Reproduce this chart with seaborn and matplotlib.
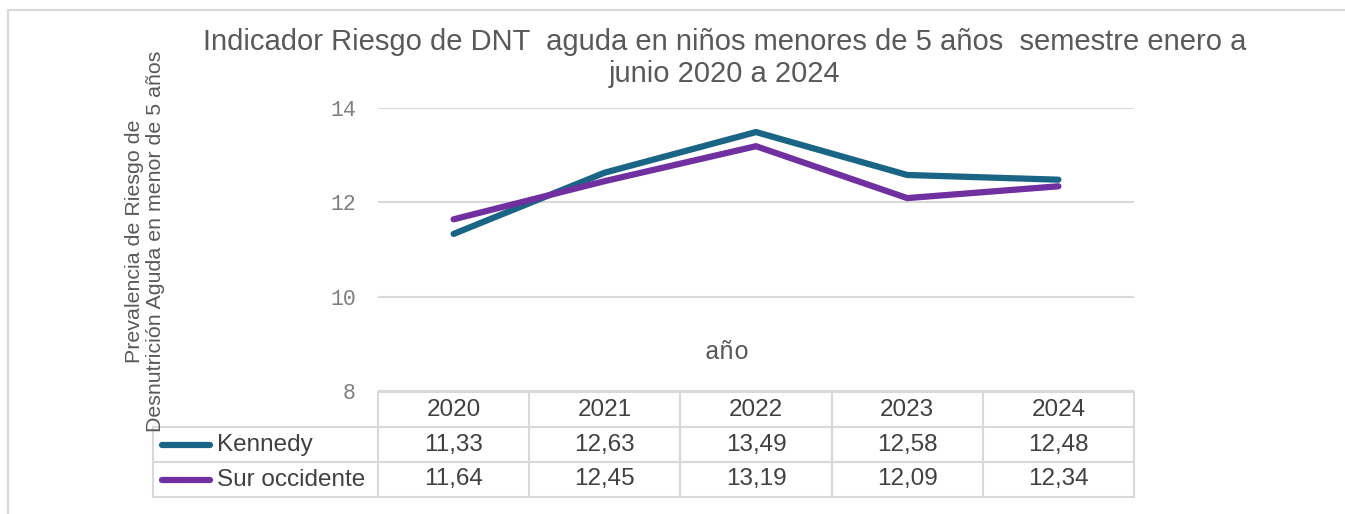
import pandas as pd
import matplotlib
matplotlib.use("Agg")
import matplotlib.pyplot as plt
import seaborn as sns

# data
years = ["2020", "2021", "2022", "2023", "2024"]
kennedy = [11.33, 12.63, 13.49, 12.58, 12.48]
sur_occidente = [11.64, 12.45, 13.19, 12.09, 12.34]
series_names = ["Kennedy", "Sur occidente"]
y_ticks = [8, 10, 12, 14]

colors = {"Kennedy": "#1a6485", "Sur occidente": "#7030a0"}

df = pd.DataFrame({
    "year": years * 2,
    "pos": list(range(len(years))) * 2,
    "value": kennedy + sur_occidente,
    "serie": ["Kennedy"] * len(years) + ["Sur occidente"] * len(years),
})

sns.set_theme(style="white")
plt.rcParams["font.family"] = ["Liberation Sans", "DejaVu Sans"]

W, H = 1345, 514
fig = plt.figure(figsize=(W / 100, H / 100), dpi=100)

def px_box(x0, y0, x1, y1):
    return [x0 / W, 1 - y1 / H, (x1 - x0) / W, (y1 - y0) / H]

ax = fig.add_axes(px_box(378, 108, 1134, 391))
sns.lineplot(data=df, x="pos", y="value", hue="serie", palette=colors,
             linewidth=4.5, ax=ax, legend=False, solid_capstyle="round")
ax.set_xlim(-0.5, len(years) - 0.5)
ax.set_ylim(8, 14)
ax.set_yticks(y_ticks)
ax.set_yticklabels([str(t) for t in y_ticks], family="Liberation Mono",
                   fontsize=15.5, color="#7f7f7f")
ax.tick_params(axis="y", length=0, pad=16)
ax.set_xticks([])
ax.set_xlabel("")
ax.set_ylabel("")
for s in ax.spines.values():
    s.set_visible(False)
ax.grid(axis="y", color="#d9d9d9", linewidth=1.5)
ax.set_axisbelow(True)

ax.text(1.81, 8.83, "año", family="Liberation Mono", fontsize=18,
        color="#595959", ha="center", va="center")

# data table below the plot
tab = fig.add_axes(px_box(153, 392, 1134, 497))
left = -0.5 - 225 / 151.2
tab.set_xlim(left, len(years) - 0.5)
tab.set_ylim(3, 0)
tab.axis("off")
grid_c = "#d9d9d9"
lw = 1.5
# horizontal lines
tab.plot([-0.5, len(years) - 0.5], [0, 0], color=grid_c, lw=lw, clip_on=False)
for r in [1, 2, 3]:
    tab.plot([left, len(years) - 0.5], [r, r], color=grid_c, lw=lw, clip_on=False)
# vertical lines
tab.plot([left, left], [1, 3], color=grid_c, lw=lw, clip_on=False)
for i in range(len(years) + 1):
    tab.plot([i - 0.5, i - 0.5], [0, 3], color=grid_c, lw=lw, clip_on=False)

txt_c = "#404040"
fs = 17.5
for i, y in enumerate(years):
    tab.text(i, 0.5, y, ha="center", va="center", fontsize=fs, color=txt_c)
for r, (name, vals) in enumerate(zip(series_names, [kennedy, sur_occidente])):
    row = r + 1.5
    for i, v in enumerate(vals):
        tab.text(i, row, f"{v:.2f}".replace(".", ","), ha="center", va="center",
                 fontsize=fs, color=txt_c)
    tab.plot([left + 0.06, left + 0.38], [row, row], color=colors[name], lw=4.5,
             solid_capstyle="round", clip_on=False)
    tab.text(left + 0.42, row, name, ha="left", va="center", fontsize=fs, color=txt_c)

fig.text(725 / W, 1 - 58 / H,
         "Indicador Riesgo de DNT  aguda en niños menores de 5 años  semestre enero a\njunio 2020 a 2024",
         ha="center", va="center", fontsize=21, color="#595959", linespacing=1.2)

fig.text(145 / W, 1 - 241 / H,
         "Prevalencia de Riesgo de\nDesnutrición Aguda en menor de 5 años",
         ha="center", va="center", rotation=90, fontsize=15.4, color="#595959",
         linespacing=1.1)

# chart frame (top and left edges visible in the crop)
fig.add_artist(plt.Line2D([8 / W, 8 / W], [0, 1 - 10 / H], color="#d9d9d9", lw=1.5))
fig.add_artist(plt.Line2D([8 / W, 1], [1 - 10 / H, 1 - 10 / H], color="#d9d9d9", lw=1.5))

fig.savefig("out.png", dpi=100, facecolor="white")
